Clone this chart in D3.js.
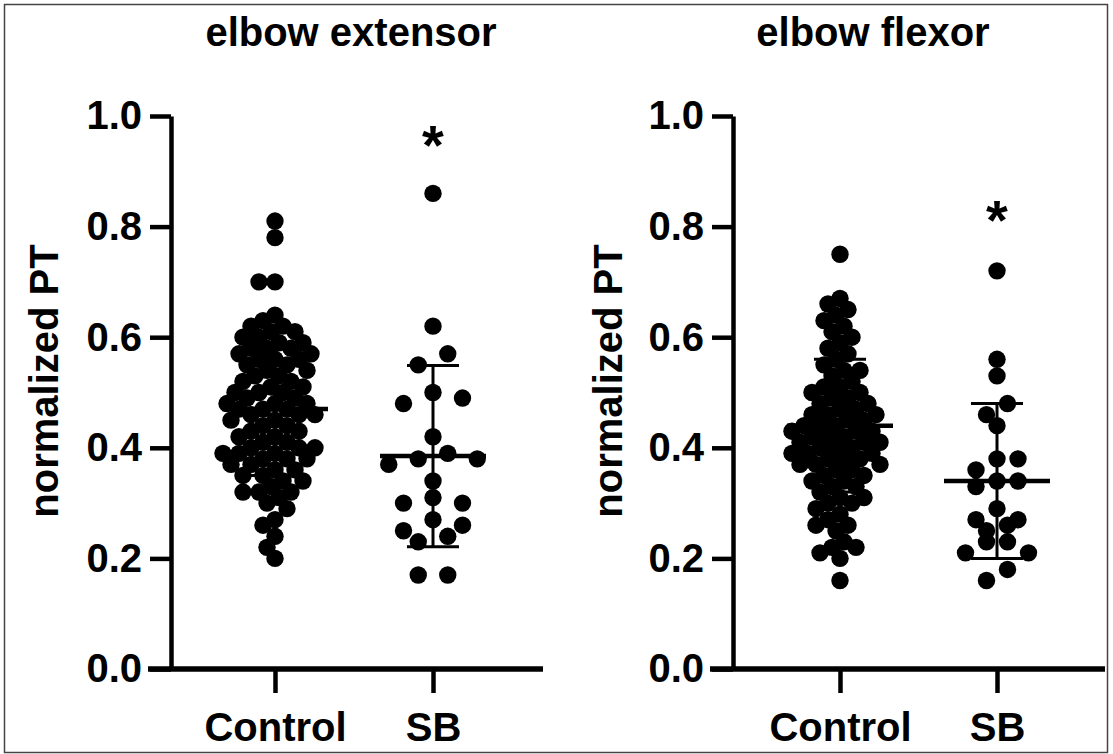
<!DOCTYPE html>
<html>
<head>
<meta charset="utf-8">
<script src="https://cdn.jsdelivr.net/npm/d3@7"></script>
<style>
  html, body { margin: 0; padding: 0; background: #fff; }
  svg { display: block; }
  text { font-family: "Liberation Sans", Arial, sans-serif; font-weight: bold; fill: #000; }
</style>
</head>
<body>
<svg id="chart" width="1113" height="754"></svg>
<script>
// ---------------- data ----------------
const categories = ["Control", "SB"];
const panelTitles = ["elbow extensor", "elbow flexor"];
const yLabel = "normalized PT";
const yTicks = [0.0, 0.2, 0.4, 0.6, 0.8, 1.0];

const extensorControl = [
  0.81, 0.78, 0.70, 0.70,
  0.64, 0.63, 0.62, 0.62, 0.61, 0.61, 0.60, 0.60, 0.59, 0.59, 0.58, 0.58, 0.58,
  0.57, 0.57, 0.56, 0.56, 0.56, 0.55, 0.55, 0.54, 0.54, 0.53, 0.53, 0.52, 0.52,
  0.51, 0.51, 0.50, 0.50, 0.50, 0.49, 0.49, 0.48, 0.48, 0.48, 0.47, 0.47, 0.47,
  0.46, 0.46, 0.46, 0.45, 0.45, 0.44, 0.44, 0.43, 0.43, 0.42, 0.42, 0.41, 0.41,
  0.40, 0.40, 0.40, 0.39, 0.39, 0.39, 0.38, 0.38, 0.38, 0.37, 0.37, 0.36, 0.36,
  0.35, 0.35, 0.34, 0.34, 0.33, 0.32, 0.32, 0.32, 0.31, 0.30, 0.29,
  0.27, 0.26, 0.24, 0.22, 0.20
];
const extensorSB = [
  0.86, 0.62, 0.57, 0.55, 0.50, 0.49, 0.48, 0.42, 0.39, 0.38, 0.37, 0.38,
  0.34, 0.31, 0.30, 0.30, 0.27, 0.26, 0.25, 0.24, 0.23, 0.17, 0.17
];
const flexorControl = [
  0.75, 0.67, 0.66, 0.65, 0.64, 0.63, 0.62, 0.61, 0.60, 0.59, 0.58, 0.57, 0.56,
  0.55, 0.54, 0.54, 0.53, 0.52, 0.51, 0.51, 0.50, 0.50, 0.49, 0.49, 0.48, 0.48,
  0.47, 0.47, 0.46, 0.46, 0.46, 0.45, 0.45, 0.44, 0.44, 0.44, 0.43, 0.43, 0.43,
  0.42, 0.42, 0.42, 0.41, 0.41, 0.41, 0.40, 0.40, 0.40, 0.39, 0.39, 0.39, 0.38,
  0.38, 0.38, 0.37, 0.37, 0.37, 0.36, 0.36, 0.35, 0.35, 0.34, 0.34, 0.33, 0.33,
  0.32, 0.31, 0.31, 0.30, 0.30, 0.29, 0.28, 0.27, 0.26, 0.26, 0.25, 0.23, 0.22,
  0.22, 0.21, 0.20, 0.16
];
const flexorSB = [
  0.72, 0.56, 0.53, 0.48, 0.46, 0.44, 0.38, 0.38, 0.36, 0.34, 0.34, 0.33,
  0.29, 0.27, 0.27, 0.26, 0.25, 0.23, 0.23, 0.21, 0.21, 0.18, 0.16
];

// summary lines (mean, SD)
const extensorMean = [0.47, 0.385];
const extensorSD   = [0.12, 0.164];
const flexorMean   = [0.44, 0.34];
const flexorSD     = [0.12, 0.14];
const significance = ["", "*"];

// ---------------- drawing ----------------
const svg = d3.select("#chart");
svg.append("rect").attr("x", 0).attr("y", 0).attr("width", 1113).attr("height", 754).attr("fill", "#fff");
svg.append("rect").attr("x", 4.5).attr("y", 4.5).attr("width", 1103).attr("height", 748)
   .attr("fill", "none").attr("stroke", "#444").attr("stroke-width", 1.5);

const panels = [
  { title: panelTitles[0], groups: [extensorControl, extensorSB], mean: extensorMean, sd: extensorSD,
    axisX: 171, xStart: 148, xEnd: 543, catRange: [275, 433], titleX: 351, labelX: 58, starY: 164, sbGap: 29.5 },
  { title: panelTitles[1], groups: [flexorControl, flexorSB], mean: flexorMean, sd: flexorSD,
    axisX: 733, xStart: 710, xEnd: 1105, catRange: [840, 997], titleX: 873, labelX: 622, starY: 239, sbGap: 21 }
];

// greedy swarm (dense groups)
function swarm(values, cx, yScale, minDist, step) {
  const pts = values.map(v => ({ v, y: yScale(v) })).sort((a, b) => b.v - a.v);
  const placed = [];
  for (const p of pts) {
    for (let k = 0; k < 400; k++) {
      const off = k === 0 ? 0 : (k % 2 === 1 ? -1 : 1) * Math.ceil(k / 2) * step;
      const x = cx + off;
      if (placed.every(q => Math.hypot(q.x - x, q.y - p.y) >= minDist)) { p.x = x; break; }
    }
    placed.push(p);
  }
  return placed;
}
// row-binned scatter (sparse groups)
function rows(values, cx, yScale, rowH, gap) {
  const pts = values.map(v => ({ v, y: yScale(v) })).sort((a, b) => b.v - a.v);
  let i = 0;
  while (i < pts.length) {
    const row = [pts[i]];
    let j = i + 1;
    while (j < pts.length && pts[j].y - pts[i].y < rowH) { row.push(pts[j]); j++; }
    const n = row.length;
    const offs = d3.range(n).map(k => (k - (n - 1) / 2) * gap).sort((a, b) => Math.abs(a) - Math.abs(b) || b - a);
    row.forEach((p, k) => p.x = cx + offs[k]);
    i = j;
  }
  return pts;
}

panels.forEach(P => {
  const g = svg.append("g");
  const y = d3.scaleLinear().domain([0, 1]).range([669, 116]);
  const x = d3.scalePoint().domain(categories).range(P.catRange);

  g.append("text").attr("x", P.titleX).attr("y", 46).attr("text-anchor", "middle")
    .attr("font-size", 40).text(P.title);

  g.append("text").attr("transform", `translate(${P.labelX},381) rotate(-90)`)
    .attr("text-anchor", "middle").attr("font-size", 40).text(yLabel);

  P.groups.forEach((vals, gi) => {
    const cx = x(categories[gi]);
    const pts = gi === 0 ? swarm(vals, cx, y, 13, 4) : rows(vals, cx, y, 16, P.sbGap);
    g.append("g").selectAll("circle").data(pts).join("circle")
      .attr("cx", d => d.x).attr("cy", d => d.y).attr("r", 8.7).attr("fill", "#000");
  });

  categories.forEach((c, gi) => {
    const cx = x(c), m = P.mean[gi], s = P.sd[gi];
    g.append("line").attr("x1", cx).attr("x2", cx).attr("y1", y(m + s)).attr("y2", y(m - s))
      .attr("stroke", "#000").attr("stroke-width", 3);
    [m + s, m - s].forEach(v => g.append("line").attr("x1", cx - 26).attr("x2", cx + 26)
      .attr("y1", y(v)).attr("y2", y(v)).attr("stroke", "#000").attr("stroke-width", 3));
    g.append("line").attr("x1", cx - 53).attr("x2", cx + 53).attr("y1", y(m)).attr("y2", y(m))
      .attr("stroke", "#000").attr("stroke-width", 4.5);
    if (significance[gi]) {
      g.append("text").attr("x", cx).attr("y", P.starY).attr("text-anchor", "middle")
        .attr("font-size", 56).text(significance[gi]);
    }
  });

  const ya = g.append("g").attr("transform", `translate(${P.axisX},0)`)
    .call(d3.axisLeft(y).tickValues(yTicks).tickFormat(d3.format(".1f")).tickSize(21).tickSizeOuter(0).tickPadding(8));
  ya.select(".domain").attr("stroke-width", 4.5).attr("stroke", "#000");
  ya.selectAll(".tick line").attr("stroke-width", 4.5).attr("stroke", "#000");
  ya.selectAll(".tick text").attr("font-size", 40).attr("font-family", "Liberation Sans, Arial, sans-serif").attr("font-weight", "bold").attr("fill", "#000");

  const xa = g.append("g").attr("transform", "translate(0,669)")
    .call(d3.axisBottom(x).tickSize(24).tickSizeOuter(0).tickPadding(20));
  xa.select(".domain").remove();
  xa.selectAll(".tick line").attr("stroke-width", 4.5).attr("stroke", "#000");
  xa.selectAll(".tick text").attr("font-size", 40).attr("font-family", "Liberation Sans, Arial, sans-serif").attr("font-weight", "bold").attr("fill", "#000");
  g.append("line").attr("x1", P.xStart).attr("x2", P.xEnd).attr("y1", 669).attr("y2", 669)
    .attr("stroke", "#000").attr("stroke-width", 5.5);
});
</script>
</body>
</html>
